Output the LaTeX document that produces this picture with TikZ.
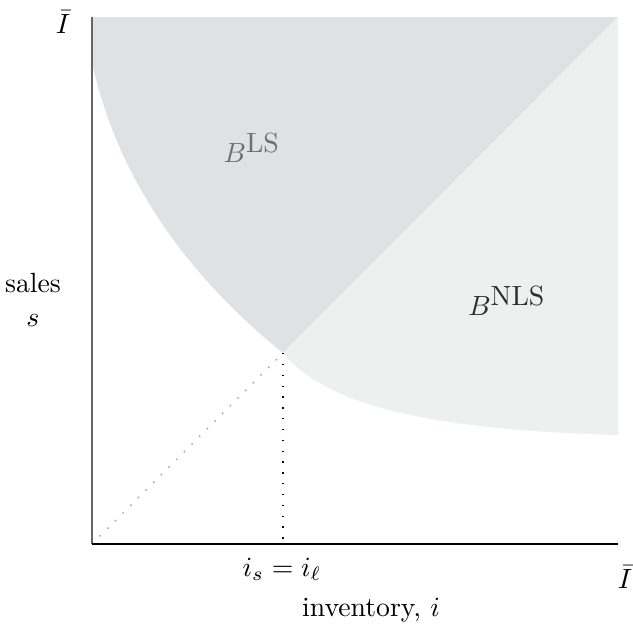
\documentclass[tikz,border=0pt]{standalone}
\usepackage{amsmath,amssymb}
\usepackage{xcolor}
\usepackage{tikz}
\usetikzlibrary{positioning, calc}
\definecolor{lsgray}{RGB}{224,225,227}
\definecolor{nlsgray}{RGB}{238,239,239}
\definecolor{lstext}{RGB}{112,112,112}
\definecolor{nlstext}{RGB}{45,45,45}

\begin{document}
\begin{tikzpicture}[
  x=0.36pt, y=-0.36pt,
  haxis/.style={line width=0.9pt, black},
  vaxis/.style={line width=0.4pt, black!60},
  guide/.style={line width=0.6pt, dash pattern=on 0.5pt off 3.4pt},
  lbl/.style={inner sep=1pt}
]
\useasboundingbox (0,0) rectangle (633,627);

% ===== Key points =====
\coordinate (O)       at (92,544);
\coordinate (kink)    at (283,353);
\coordinate (tl)      at (92,17);
\coordinate (tr)      at (618,17);
\coordinate (br)      at (618,544);
\coordinate (lsstart) at (92,62);
\coordinate (nlsend)  at (618,435);
\coordinate (kinkfoot) at (kink |- O);

% ===== Regions =====
\fill[lsgray] (tl) -- (tr) -- (kink)
  .. controls (180,270) and (115,170) .. (lsstart) -- cycle;
\fill[nlsgray] (tr) -- (nlsend)
  .. controls (430,430) and (325,405) .. (kink) -- cycle;

% ===== Guides =====
\draw[guide, black!35] (O) -- (kink);
\draw[guide, black]    (kink) -- (kinkfoot);

% ===== Axes =====
\draw[vaxis] (O) -- (tl);
\draw[haxis] (O) -- (br);

% ===== Labels =====
\node[lbl, text=lstext]  (bls)  at (252,148) {$B^{\mbox{LS}}$};
\node[lbl, text=nlstext] (bnls) at (507,301) {$B^{\mbox{NLS}}$};
\node[lbl] (itop)   at (63,22)   {$\bar{I}$};
\node[lbl] (iright) at (625,577) {$\bar{I}$};
\node[lbl] (is)     at (282,569) {$i_s = i_\ell$};
\node[lbl] (xlab)   at (371,610) {inventory, $i$};
\node[lbl, align=center] (ylab) at (33,300) {sales\\ $s$};

\end{tikzpicture}
\end{document}
